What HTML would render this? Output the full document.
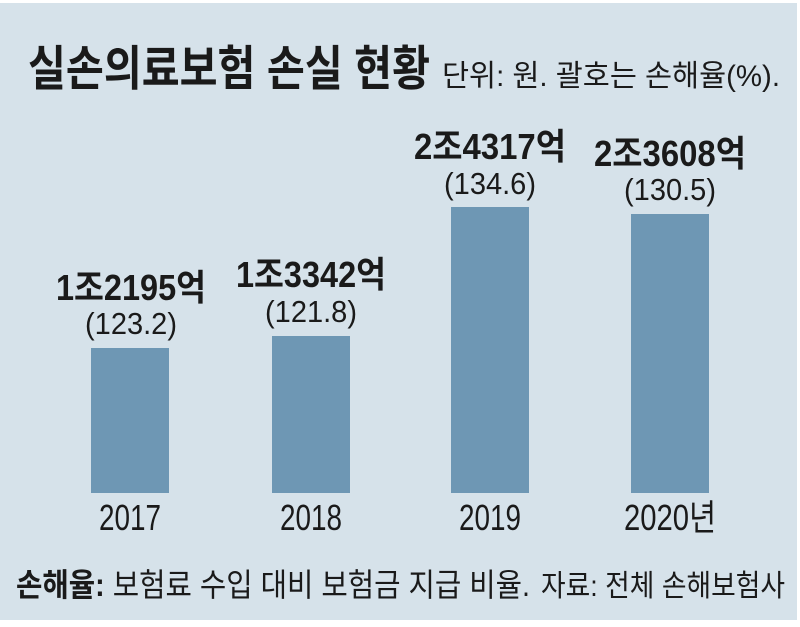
<!DOCTYPE html>
<html><head><meta charset="utf-8"><style>
body{margin:0;}
svg text{font-family:"Liberation Sans","Noto Sans CJK KR",sans-serif;fill:#1a1a1a;}
</style></head><body>
<svg width="800" height="622" viewBox="0 0 800 622" xmlns="http://www.w3.org/2000/svg">
<rect width="800" height="622" fill="#fff"/>
<rect x="0" y="3" width="797" height="617" fill="#d6e2ea"/>
<text x="28" y="85" font-size="48" font-weight="bold" textLength="402" lengthAdjust="spacingAndGlyphs">실손의료보험 손실 현황</text>
<text x="442" y="86" font-size="30" textLength="338" lengthAdjust="spacingAndGlyphs">단위: 원. 괄호는 손해율(%).</text>
<g fill="#6e97b4">
<rect x="91" y="348" width="78" height="145"/>
<rect x="272" y="336" width="78" height="157"/>
<rect x="451" y="207" width="78" height="286"/>
<rect x="631" y="214" width="78" height="279"/>
</g>
<g text-anchor="middle">
<text x="131" y="300" font-size="36" font-weight="bold" textLength="150" lengthAdjust="spacingAndGlyphs">1조2195억</text>
<text x="131" y="334" font-size="31" textLength="92" lengthAdjust="spacingAndGlyphs">(123.2)</text>
<text x="311" y="287" font-size="36" font-weight="bold" textLength="150" lengthAdjust="spacingAndGlyphs">1조3342억</text>
<text x="311" y="322" font-size="31" textLength="92" lengthAdjust="spacingAndGlyphs">(121.8)</text>
<text x="490" y="159" font-size="36" font-weight="bold" textLength="152" lengthAdjust="spacingAndGlyphs">2조4317억</text>
<text x="490" y="194" font-size="31" textLength="92" lengthAdjust="spacingAndGlyphs">(134.6)</text>
<text x="670" y="166" font-size="36" font-weight="bold" textLength="152" lengthAdjust="spacingAndGlyphs">2조3608억</text>
<text x="670" y="200" font-size="31" textLength="92" lengthAdjust="spacingAndGlyphs">(130.5)</text>
<text x="130" y="530" font-size="36" textLength="62" lengthAdjust="spacingAndGlyphs">2017</text>
<text x="311" y="530" font-size="36" textLength="62" lengthAdjust="spacingAndGlyphs">2018</text>
<text x="490" y="530" font-size="36" textLength="62" lengthAdjust="spacingAndGlyphs">2019</text>
<text x="670" y="530" font-size="36" textLength="92" lengthAdjust="spacingAndGlyphs">2020년</text>
</g>
<text x="16" y="596" font-size="32" textLength="514" lengthAdjust="spacingAndGlyphs"><tspan font-weight="bold">손해율:</tspan> 보험료 수입 대비 보험금 지급 비율.</text>
<text x="541" y="596" font-size="30" textLength="244" lengthAdjust="spacingAndGlyphs">자료: 전체 손해보험사</text>
</svg>
</body></html>
